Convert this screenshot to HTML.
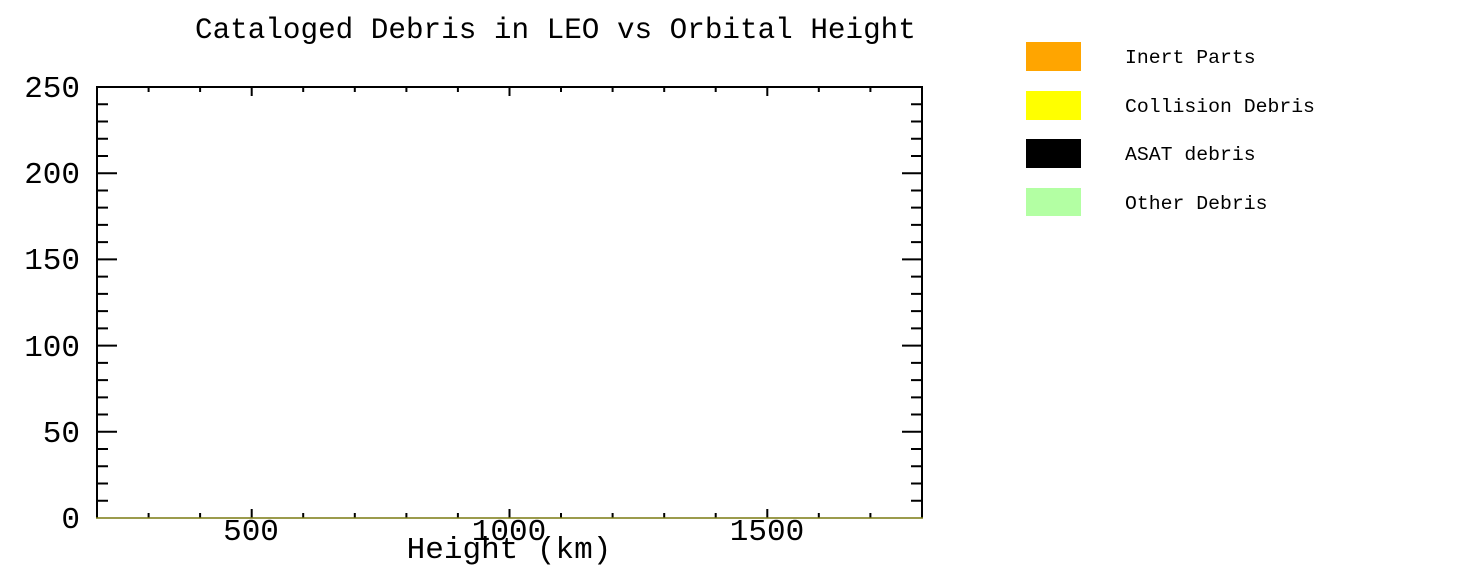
<!DOCTYPE html>
<html><head><style>
html,body{margin:0;padding:0;background:#fff;}
svg text{font-family:"Liberation Mono",monospace;fill:#000;}
</style></head><body>
<svg width="1478" height="576" xmlns="http://www.w3.org/2000/svg">
<text x="195" y="38" font-size="29.3">Cataloged Debris in LEO vs Orbital Height</text>
<g stroke="#000" stroke-width="2" fill="none">
<line x1="97" y1="86" x2="97" y2="518"/>
<line x1="922" y1="86" x2="922" y2="518"/>
<line x1="96" y1="87" x2="923" y2="87"/>
<path d="M97 500.76h11M97 483.52h11M97 466.28h11M97 449.04h11M97 431.8h20M97 414.56h11M97 397.32h11M97 380.08h11M97 362.84h11M97 345.6h20M97 328.36h11M97 311.12h11M97 293.88h11M97 276.64h11M97 259.4h20M97 242.16h11M97 224.92h11M97 207.68h11M97 190.44h11M97 173.2h20M97 155.96h11M97 138.72h11M97 121.48h11M97 104.24h11"/>
<path d="M922 500.76h-11M922 483.52h-11M922 466.28h-11M922 449.04h-11M922 431.8h-20M922 414.56h-11M922 397.32h-11M922 380.08h-11M922 362.84h-11M922 345.6h-20M922 328.36h-11M922 311.12h-11M922 293.88h-11M922 276.64h-11M922 259.4h-20M922 242.16h-11M922 224.92h-11M922 207.68h-11M922 190.44h-11M922 173.2h-20M922 155.96h-11M922 138.72h-11M922 121.48h-11M922 104.24h-11"/>
<path d="M148.6 518v-5M200.1 518v-5M251.7 518v-9M303.2 518v-5M354.8 518v-5M406.4 518v-5M457.9 518v-5M509.5 518v-9M561 518v-5M612.6 518v-5M664.2 518v-5M715.7 518v-5M767.3 518v-9M818.8 518v-5M870.4 518v-5"/>
<path d="M148.6 87v5M200.1 87v5M251.7 87v9M303.2 87v5M354.8 87v5M406.4 87v5M457.9 87v5M509.5 87v9M561 87v5M612.6 87v5M664.2 87v5M715.7 87v5M767.3 87v9M818.8 87v5M870.4 87v5"/>
</g>
<line x1="96" y1="518" x2="923" y2="518" stroke="#7a7a10" stroke-width="1.5"/>
<g font-size="31" text-anchor="end">
<text x="80" y="528">0</text>
<text x="80" y="442">50</text>
<text x="80" y="356">100</text>
<text x="80" y="269">150</text>
<text x="80" y="183">200</text>
<text x="80" y="97">250</text>
</g>
<g font-size="31" text-anchor="middle">
<text x="251" y="540">500</text>
<text x="509" y="540">1000</text>
<text x="767" y="540">1500</text>
<text x="509" y="558">Height (km)</text>
</g>
<rect x="1026" y="42" width="55" height="29" fill="#ffa500"/>
<rect x="1026" y="91" width="55" height="29" fill="#ffff00"/>
<rect x="1026" y="139" width="55" height="29" fill="#000"/>
<rect x="1026" y="188" width="55" height="28" fill="#b3ffa3"/>
<g font-size="19.8">
<text x="1125" y="63">Inert Parts</text>
<text x="1125" y="112">Collision Debris</text>
<text x="1125" y="160">ASAT debris</text>
<text x="1125" y="209">Other Debris</text>
</g>
</svg>
</body></html>
